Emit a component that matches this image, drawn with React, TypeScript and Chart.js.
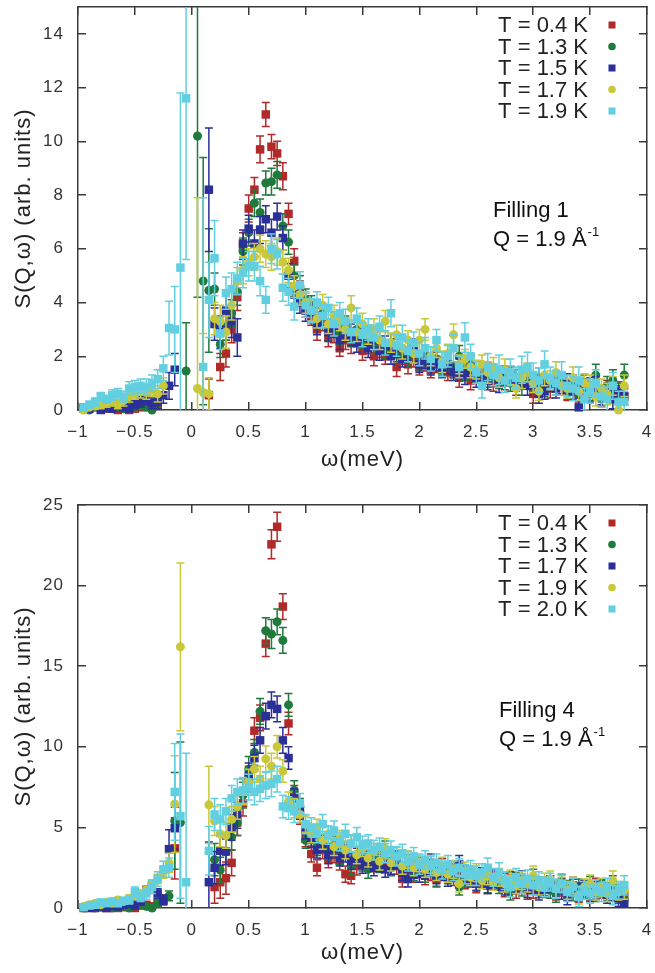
import React, { useEffect, useRef } from 'react';
import { Chart, registerables } from 'chart.js';
Chart.register(...registerables);

const FONT = '"Liberation Sans", Arial, sans-serif';

// ω grid (meV)
const omega = [
  -0.95, -0.9, -0.85, -0.8, -0.75, -0.7, -0.65, -0.6, -0.55, -0.5,
  -0.45, -0.4, -0.35, -0.3, -0.25, -0.2, -0.15, -0.1, -0.05, 0,
  0.05, 0.1, 0.15, 0.2, 0.25, 0.3, 0.35, 0.4, 0.45, 0.5,
  0.55, 0.6, 0.65, 0.7, 0.75, 0.8, 0.85, 0.9, 0.95, 1.0,
  1.05, 1.1, 1.15, 1.2, 1.25, 1.3, 1.35, 1.4, 1.45, 1.5,
  1.55, 1.6, 1.65, 1.7, 1.75, 1.8, 1.85, 1.9, 1.95, 2.0,
  2.05, 2.1, 2.15, 2.2, 2.25, 2.3, 2.35, 2.4, 2.45, 2.5,
  2.55, 2.6, 2.65, 2.7, 2.75, 2.8, 2.85, 2.9, 2.95, 3.0,
  3.05, 3.1, 3.15, 3.2, 3.25, 3.3, 3.35, 3.4, 3.45, 3.5,
  3.55, 3.6, 3.65, 3.7, 3.75, 3.8,
];

const xTicks = [-1, -0.5, 0, 0.5, 1, 1.5, 2, 2.5, 3, 3.5, 4];
const yTicksTop = [0, 2, 4, 6, 8, 10, 12, 14];
const yTicksBottom = [0, 5, 10, 15, 20, 25];

const COLORS = ['#b02a2a', '#1f7a3c', '#2b2f98', '#c8c83a', '#62cfe0'];
const STYLES = ['rect', 'circle', 'rect', 'circle', 'rect'];

const labelsTop = ['T = 0.4 K', 'T = 1.3 K', 'T = 1.5 K', 'T = 1.7 K', 'T = 1.9 K'];
const labelsBottom = ['T = 0.4 K', 'T = 1.3 K', 'T = 1.7 K', 'T = 1.9 K', 'T = 2.0 K'];

// ---------- Filling 1 ----------
const f1_T04 = [
  0.05, 0.1, 0.15, 0.1, 0.05, 0.1, 0.0, 0.05, 0.0, 0.05,
  0.1, 0.15, 0.2, 0.15, null, null, null, null, null, null,
  null, null, 0.55, null, 1.6, 2.1, 3.0, 4.2, 6.1, 7.5,
  8.2, 9.7, 11.0, 9.8, 9.55, 8.7, 7.3, 5.55, 4.4, 3.8,
  3.5, 3.0, 3.3, 2.7, 2.9, 2.3, 2.6, 2.5, 2.7, 2.2,
  2.4, 2.0, 2.3, 2.0, 2.2, 1.6, 2.0, 1.7, 1.9, 1.6,
  1.8, 1.5, 1.7, 1.6, 1.4, 1.5, 1.2, 1.4, 1.1, 1.3,
  1.2, 1.4, 1.0, 1.2, 1.1, 1.3, 0.9, 1.1, 1.2, 0.6,
  0.9, 1.0, 0.8, 1.1, 0.9, 0.7, 1.0, 0.6, 0.8, 0.9,
  0.7, 0.5, 0.8, 0.6, 0.7, 0.5,
];
const f1_T04_err = [
  0.1, 0.1, 0.12, 0.1, 0.1, 0.12, 0.1, 0.1, 0.1, 0.12,
  0.15, 0.15, 0.15, 0.2, 0, 0, 0, 0, 0, 0,
  0, 0, 0.6, 0, 0.5, 0.5, 0.5, 0.5, 0.5, 0.5,
  0.45, 0.5, 0.45, 0.45, 0.45, 0.5, 0.4, 0.45, 0.4, 0.35,
  0.35, 0.4, 0.35, 0.35, 0.4, 0.3, 0.35, 0.4, 0.35, 0.35,
  0.3, 0.35, 0.35, 0.3, 0.3, 0.35, 0.3, 0.35, 0.3, 0.3,
  0.35, 0.3, 0.3, 0.35, 0.3, 0.3, 0.35, 0.3, 0.35, 0.3,
  0.3, 0.35, 0.3, 0.3, 0.35, 0.3, 0.35, 0.3, 0.3, 0.35,
  0.3, 0.3, 0.35, 0.3, 0.3, 0.35, 0.3, 0.3, 0.35, 0.3,
  0.3, 0.35, 0.3, 0.3, 0.35, 0.3,
];
const f1_T13 = [
  0.05, 0.0, 0.1, 0.05, 0.15, 0.05, 0.1, 0.05, 0.2, 0.1,
  0.15, 0.1, 0.0, 0.3, null, null, null, null, 1.45, null,
  10.2, 4.8, 4.45, 4.5, 2.45, 3.1, 3.6, 4.4, 5.9, 6.6,
  7.7, 7.35, 8.45, 8.5, 8.75, 6.85, 6.25, 5.0, 4.6, 4.1,
  3.9, 3.4, 3.6, 3.0, 3.3, 2.8, 3.1, 2.7, 3.0, 2.6,
  2.8, 2.4, 2.6, 2.2, 2.5, 2.1, 2.3, 1.9, 2.1, 1.8,
  2.0, 1.7, 1.9, 1.6, 1.8, 1.5, 2.0, 1.4, 1.7, 1.3,
  1.5, 1.2, 1.4, 1.1, 1.3, 1.0, 1.2, 0.9, 1.1, 1.0,
  1.2, 0.8, 1.0, 0.9, 1.1, 0.7, 0.9, 0.8, 1.0, 0.7,
  1.3, 0.6, 0.9, 1.1, 0.7, 1.3,
];
const f1_T13_err = [
  0.1, 0.1, 0.12, 0.1, 0.12, 0.1, 0.12, 0.1, 0.15, 0.12,
  0.15, 0.15, 0.15, 0.2, 0, 0, 0, 0, 1.8, 0,
  6.0, 4.6, 2.3, 0.6, 0.5, 0.5, 0.5, 0.5, 0.5, 0.5,
  0.5, 0.5, 0.45, 0.5, 0.5, 0.45, 0.45, 0.4, 0.4, 0.4,
  0.35, 0.4, 0.35, 0.4, 0.35, 0.35, 0.4, 0.35, 0.35, 0.3,
  0.35, 0.3, 0.35, 0.3, 0.35, 0.3, 0.35, 0.3, 0.3, 0.35,
  0.3, 0.35, 0.3, 0.3, 0.35, 0.3, 0.4, 0.3, 0.35, 0.3,
  0.3, 0.35, 0.3, 0.3, 0.35, 0.3, 0.3, 0.35, 0.3, 0.3,
  0.35, 0.3, 0.3, 0.35, 0.3, 0.3, 0.35, 0.3, 0.3, 0.35,
  0.4, 0.3, 0.35, 0.4, 0.3, 0.4,
];
const f1_T15 = [
  0.1, 0.05, 0.15, 0.0, 0.1, 0.05, 0.15, 0.1, 0.05, 0.2,
  0.3, 0.4, 0.25, 0.3, 0.55, 0.9, 1.5, null, null, null,
  null, null, 8.2, 3.2, 2.9, 3.7, 3.3, 2.7, 6.2, 6.75,
  6.2, 6.7, 7.1, 6.6, 7.2, 6.4, 5.0, 4.3, 4.0, 3.7,
  3.6, 3.2, 3.5, 2.9, 3.1, 2.6, 2.9, 2.8, 2.5, 2.7,
  2.3, 2.6, 2.2, 2.4, 2.0, 2.3, 1.9, 2.2, 2.3, 1.7,
  1.9, 1.6, 1.8, 1.5, 1.7, 1.4, 1.6, 1.3, 1.5, 1.2,
  1.4, 1.1, 1.3, 1.0, 1.2, 1.3, 1.0, 1.2, 0.9, 1.1,
  0.6, 0.7, 1.0, 0.8, 0.9, 1.0, 0.7, 0.1, 0.8, 0.6,
  0.9, 0.5, 0.7, 0.4, 0.6, 0.5,
];
const f1_T15_err = [
  0.1, 0.1, 0.12, 0.1, 0.12, 0.1, 0.12, 0.12, 0.15, 0.15,
  0.2, 0.2, 0.2, 0.25, 0.3, 0.5, 0.6, 0, 0, 0,
  0, 0, 2.3, 0.6, 0.6, 0.6, 0.6, 0.7, 0.5, 0.5,
  0.5, 0.5, 0.5, 0.5, 0.5, 0.45, 0.45, 0.4, 0.4, 0.4,
  0.35, 0.4, 0.35, 0.35, 0.4, 0.35, 0.35, 0.4, 0.35, 0.35,
  0.35, 0.3, 0.35, 0.35, 0.3, 0.35, 0.3, 0.35, 0.35, 0.3,
  0.35, 0.3, 0.35, 0.3, 0.35, 0.3, 0.3, 0.35, 0.3, 0.35,
  0.3, 0.35, 0.3, 0.35, 0.3, 0.35, 0.3, 0.3, 0.35, 0.3,
  0.35, 0.3, 0.3, 0.35, 0.3, 0.35, 0.3, 0.35, 0.3, 0.3,
  0.35, 0.3, 0.3, 0.35, 0.3, 0.3,
];
const f1_T17 = [
  0.0, 0.1, 0.15, 0.2, 0.25, 0.3, 0.2, 0.35, 0.5, 0.6,
  0.7, 0.65, 0.75, 0.6, 0.9, null, null, null, null, null,
  0.8, 0.65, 0.6, 3.4, 3.3, 2.9, 3.9, 4.8, 5.2, 5.5,
  5.7, 6.0, 5.8, 5.7, 5.9, 5.5, 5.2, 4.6, 4.3, 4.0,
  3.7, 3.4, 3.9, 3.2, 3.5, 3.3, 3.0, 3.8, 2.9, 3.2,
  2.8, 3.0, 2.6, 3.3, 2.5, 2.8, 2.3, 2.6, 2.1, 2.6,
  3.0, 2.0, 2.3, 1.8, 2.1, 2.8, 1.7, 1.9, 1.6, 1.5,
  1.7, 1.4, 1.6, 1.2, 1.5, 1.3, 0.8, 1.2, 1.4, 1.0,
  0.7, 1.3, 1.1, 1.4, 0.9, 0.8, 1.2, 0.7, 1.0, 0.9,
  0.5, 0.8, 0.6, 0.9, 0.0, 0.9,
];
const f1_T17_err = [
  0.1, 0.12, 0.12, 0.15, 0.15, 0.15, 0.15, 0.2, 0.2, 0.2,
  0.25, 0.25, 0.25, 0.3, 0.3, 0, 0, 0, 0, 0,
  7.1, 2.2, 0.6, 0.6, 0.6, 0.6, 0.55, 0.5, 0.5, 0.5,
  0.5, 0.5, 0.5, 0.5, 0.5, 0.45, 0.45, 0.4, 0.4, 0.4,
  0.4, 0.35, 0.4, 0.35, 0.4, 0.35, 0.4, 0.45, 0.35, 0.4,
  0.35, 0.4, 0.35, 0.4, 0.35, 0.35, 0.4, 0.35, 0.35, 0.4,
  0.4, 0.35, 0.35, 0.4, 0.35, 0.4, 0.35, 0.35, 0.4, 0.35,
  0.35, 0.4, 0.35, 0.35, 0.4, 0.35, 0.35, 0.4, 0.35, 0.35,
  0.35, 0.4, 0.35, 0.4, 0.35, 0.35, 0.4, 0.35, 0.35, 0.4,
  0.35, 0.35, 0.4, 0.35, 0.35, 0.4,
];
const f1_T19 = [
  0.1, 0.2, 0.3, 0.5, 0.4, 0.55, 0.6, 0.5, 0.8, 0.85,
  0.9, 0.85, 1.0, 1.15, 1.55, 3.05, 3.0, 5.3, 11.6, null,
  null, 1.6, 4.1, 5.65, 2.85, 4.35, 4.5, 4.9, 5.1, 5.35,
  5.35, 4.8, 4.1, 6.0, 5.8, 4.55, 4.4, 3.85, 4.65, 3.9,
  3.7, 4.0, 3.5, 3.8, 3.2, 3.6, 3.3, 2.9, 3.4, 2.8,
  3.0, 2.7, 3.1, 2.5, 3.6, 2.4, 2.7, 2.2, 2.5, 2.1,
  2.3, 1.9, 2.6, 1.7, 2.0, 2.3, 1.6, 2.7, 2.0, 1.4,
  0.9, 1.6, 1.3, 1.5, 1.1, 1.4, 1.2, 1.5, 1.6, 1.3,
  1.1, 1.7, 1.2, 1.0, 1.3, 0.9, 0.8, 1.1, 0.4, 0.7,
  1.0, 0.5, 0.4, 0.9, 0.3, 0.3,
];
const f1_T19_err = [
  0.1, 0.12, 0.15, 0.15, 0.15, 0.2, 0.2, 0.2, 0.25, 0.25,
  0.25, 0.3, 0.3, 0.35, 0.45, 1.0, 1.6, 6.5, 6.0, 0,
  0, 6.3, 1.4, 1.4, 0.6, 0.6, 0.6, 0.6, 0.55, 0.55,
  0.55, 0.55, 0.5, 0.55, 0.55, 0.5, 0.5, 0.5, 0.5, 0.45,
  0.45, 0.4, 0.45, 0.4, 0.45, 0.4, 0.45, 0.4, 0.4, 0.45,
  0.4, 0.45, 0.4, 0.45, 0.5, 0.4, 0.45, 0.4, 0.4, 0.45,
  0.4, 0.45, 0.4, 0.45, 0.4, 0.5, 0.4, 0.55, 0.45, 0.4,
  0.45, 0.5, 0.4, 0.55, 0.45, 0.5, 0.4, 0.5, 0.55, 0.45,
  0.45, 0.5, 0.4, 0.45, 0.5, 0.4, 0.45, 0.5, 0.4, 0.45,
  0.5, 0.4, 0.45, 0.5, 0.4, 0.4,
];

// ---------- Filling 4 ----------
const f4_T04 = [
  0.0, 0.05, 0.0, 0.1, 0.0, 0.05, 0.0, 0.05, 0.1, 0.0,
  0.15, 0.2, 0.1, 0.3, 0.5, null, 3.7, null, null, null,
  null, null, null, 1.3, 1.6, 1.85, 2.8, 5.3, 6.5, 8.0,
  11.0, 11.8, 16.4, 22.56, 23.65, 18.7, 11.45, 7.0, 5.8, 4.3,
  3.35, 2.5, 3.6, 3.0, 3.3, 2.9, 2.1, 2.0, 2.6, 2.9,
  3.1, 2.8, 3.0, 2.7, 2.9, 2.6, 1.8, 2.4, 2.1, 2.4,
  2.0, 2.2, 1.8, 2.5, 2.3, 1.9, 2.0, 1.7, 1.9, 1.5,
  1.8, 1.4, 1.7, 1.6, 1.2, 1.5, 1.1, 1.6, 1.1, 1.1,
  1.4, 1.2, 1.5, 1.0, 1.3, 1.1, 1.4, 0.9, 1.2, 1.0,
  1.3, 1.1, 0.9, 1.2, 1.0, 0.8,
];
const f4_T04_err = [
  0.1, 0.1, 0.1, 0.1, 0.1, 0.12, 0.1, 0.12, 0.12, 0.12,
  0.15, 0.15, 0.2, 0.25, 0.3, 0, 1.9, 0, 0, 0,
  0, 0, 0, 1.0, 1.0, 1.0, 0.8, 0.8, 0.8, 0.8,
  0.8, 0.8, 0.8, 0.9, 0.9, 0.8, 0.7, 0.6, 0.6, 0.5,
  0.5, 0.5, 0.55, 0.5, 0.5, 0.55, 0.5, 0.5, 0.55, 0.5,
  0.5, 0.55, 0.5, 0.5, 0.55, 0.5, 0.5, 0.55, 0.5, 0.5,
  0.55, 0.5, 0.5, 0.55, 0.5, 0.5, 0.55, 0.5, 0.5, 0.55,
  0.5, 0.5, 0.55, 0.5, 0.5, 0.55, 0.5, 0.5, 0.55, 0.5,
  0.5, 0.55, 0.5, 0.5, 0.55, 0.5, 0.5, 0.55, 0.5, 0.5,
  0.55, 0.5, 0.5, 0.55, 0.5, 0.5,
];
const f4_T13 = [
  0.0, 0.05, 0.0, 0.05, 0.1, 0.0, 0.05, 0.1, 0.0, 0.15,
  0.2, 0.1, 0.0, 0.3, 0.5, 0.75, 5.4, 5.3, null, null,
  null, null, null, 3.0, 2.35, 3.5, 4.4, 5.3, 7.0, 8.6,
  9.65, 12.2, 17.2, 17.0, 17.75, 16.6, 12.6, 7.3, 6.3, 4.2,
  4.5, 3.8, 4.1, 3.5, 3.9, 3.2, 3.6, 2.6, 3.3, 2.8,
  2.4, 3.1, 2.7, 3.6, 2.5, 3.0, 2.3, 2.8, 2.2, 2.6,
  2.1, 2.5, 1.9, 2.3, 2.0, 2.2, 1.3, 1.8, 2.0, 1.6,
  1.9, 1.5, 1.8, 1.4, 1.6, 1.0, 1.7, 1.3, 1.5, 1.9,
  1.2, 1.4, 1.1, 0.9, 1.6, 1.2, 1.0, 1.3, 1.1, 1.4,
  0.9, 1.2, 1.0, 1.5, 0.8, 0.5,
];
const f4_T13_err = [
  0.1, 0.1, 0.1, 0.1, 0.12, 0.1, 0.12, 0.12, 0.12, 0.15,
  0.15, 0.15, 0.15, 0.2, 0.25, 0.3, 3.0, 5.0, 0, 0,
  0, 0, 0, 1.0, 0.8, 0.8, 0.8, 0.8, 0.8, 0.8,
  0.8, 0.8, 0.8, 0.9, 0.8, 0.8, 0.7, 0.6, 0.5, 0.5,
  0.5, 0.55, 0.5, 0.5, 0.55, 0.5, 0.5, 0.55, 0.5, 0.5,
  0.55, 0.5, 0.5, 0.55, 0.5, 0.5, 0.55, 0.5, 0.5, 0.55,
  0.5, 0.5, 0.55, 0.5, 0.5, 0.55, 0.5, 0.5, 0.55, 0.5,
  0.5, 0.55, 0.5, 0.5, 0.55, 0.5, 0.5, 0.55, 0.5, 0.5,
  0.55, 0.5, 0.5, 0.55, 0.5, 0.5, 0.55, 0.5, 0.5, 0.55,
  0.5, 0.5, 0.55, 0.5, 0.5, 0.55,
];
const f4_T17 = [
  0.05, 0.0, 0.05, 0.1, 0.0, 0.15, 0.1, 0.2, 0.25, 0.15,
  0.4, 1.1, 1.4, 0.9, 0.5, 3.65, 4.95, null, null, null,
  null, null, 1.6, 2.5, 3.55, 3.5, 5.0, 5.75, 7.2, 8.2,
  9.3, 10.4, 11.9, 12.6, 12.35, 10.4, 9.3, 6.8, 6.0, 4.8,
  4.3, 3.6, 4.0, 3.3, 3.7, 3.1, 3.4, 2.9, 3.2, 2.7,
  3.0, 2.5, 2.8, 2.4, 2.6, 3.0, 2.2, 1.8, 2.4, 2.1,
  2.3, 2.8, 2.0, 2.2, 1.9, 2.4, 2.7, 2.1, 1.8, 1.6,
  2.0, 1.4, 1.8, 1.6, 1.3, 1.7, 1.5, 1.8, 1.2, 1.4,
  1.0, 1.3, 1.5, 1.2, 1.1, 0.7, 1.3, 1.0, 1.2, 0.9,
  1.1, 1.3, 0.8, 1.0, 0.6, 0.3,
];
const f4_T17_err = [
  0.1, 0.1, 0.1, 0.12, 0.1, 0.12, 0.12, 0.15, 0.15, 0.15,
  0.2, 0.25, 0.3, 0.3, 0.3, 1.2, 1.3, 0, 0, 0,
  0, 0, 2.5, 1.0, 0.9, 0.8, 0.8, 0.8, 0.8, 0.8,
  0.8, 0.8, 0.8, 0.8, 0.8, 0.8, 0.7, 0.6, 0.5, 0.5,
  0.55, 0.5, 0.5, 0.55, 0.5, 0.5, 0.55, 0.5, 0.5, 0.55,
  0.5, 0.5, 0.55, 0.5, 0.5, 0.55, 0.5, 0.5, 0.55, 0.5,
  0.5, 0.55, 0.5, 0.5, 0.55, 0.5, 0.55, 0.5, 0.5, 0.55,
  0.5, 0.5, 0.55, 0.5, 0.5, 0.55, 0.5, 0.5, 0.55, 0.5,
  0.5, 0.55, 0.5, 0.5, 0.55, 0.5, 0.5, 0.55, 0.5, 0.5,
  0.55, 0.5, 0.5, 0.55, 0.5, 0.5,
];
const f4_T19 = [
  0.1, 0.2, 0.3, 0.2, 0.35, 0.3, 0.5, 0.4, 0.6, 0.75,
  0.9, 1.1, 1.5, 1.8, 2.2, 2.8, 6.45, 16.2, null, null,
  null, null, 6.4, 5.4, 4.6, 4.5, 5.5, 6.3, 7.2, 7.8,
  8.6, 8.0, 9.25, 8.8, 10.0, 8.5, 6.6, 6.2, 5.8, 5.2,
  4.6, 5.0, 4.2, 4.6, 3.8, 4.3, 3.6, 4.0, 3.3, 3.7,
  3.1, 3.5, 2.9, 3.7, 2.8, 3.2, 2.6, 3.0, 2.5, 2.8,
  2.4, 2.7, 2.2, 2.6, 2.1, 2.4, 1.5, 2.3, 1.9, 2.2,
  1.7, 2.0, 1.6, 1.9, 1.5, 1.8, 1.4, 1.7, 1.5, 2.0,
  1.3, 1.6, 1.8, 1.2, 1.5, 1.1, 1.4, 0.8, 1.3, 1.5,
  1.0, 1.3, 0.9, 1.7, 1.0, 1.1,
];
const f4_T19_err = [
  0.12, 0.12, 0.15, 0.12, 0.15, 0.15, 0.15, 0.15, 0.2, 0.2,
  0.15, 0.2, 0.25, 0.3, 0.35, 0.6, 3.0, 5.2, 0, 0,
  0, 0, 2.4, 0.9, 0.8, 0.8, 0.8, 0.8, 0.8, 0.8,
  0.8, 0.8, 0.8, 0.8, 0.7, 0.7, 0.6, 0.6, 0.5, 0.5,
  0.55, 0.5, 0.55, 0.5, 0.55, 0.5, 0.55, 0.5, 0.55, 0.5,
  0.55, 0.5, 0.55, 0.6, 0.5, 0.55, 0.5, 0.55, 0.5, 0.55,
  0.5, 0.55, 0.5, 0.55, 0.5, 0.55, 0.5, 0.55, 0.5, 0.55,
  0.5, 0.55, 0.5, 0.55, 0.5, 0.55, 0.5, 0.55, 0.5, 0.6,
  0.5, 0.55, 0.5, 0.55, 0.5, 0.55, 0.5, 0.55, 0.5, 0.55,
  0.5, 0.55, 0.5, 0.6, 0.5, 0.55,
];
const f4_T20 = [
  0.05, 0.15, 0.2, 0.35, 0.3, 0.4, 0.3, 0.45, 0.5, 1.0,
  0.7, 0.9, 1.3, 1.8, 2.4, 2.5, 7.2, 5.7, 1.6, null,
  null, null, 3.55, 5.8, 5.5, 6.0, 6.8, 7.2, 7.3, 7.5,
  7.2, 7.4, 7.6, 7.7, 8.0, 6.3, 6.2, 6.0, 6.5, 5.2,
  5.0, 4.6, 5.2, 4.5, 4.8, 4.1, 4.6, 4.0, 4.4, 3.9,
  4.0, 3.6, 3.8, 3.4, 3.6, 3.2, 3.4, 2.9, 3.2, 2.7,
  3.0, 2.6, 2.8, 2.4, 2.7, 2.3, 2.5, 2.1, 2.4, 2.0,
  2.2, 2.5, 1.9, 2.2, 1.7, 1.3, 1.9, 1.5, 1.8, 1.4,
  1.7, 1.3, 1.6, 1.2, 1.5, 1.0, 1.3, 0.7, 1.1, 0.9,
  1.2, 1.0, 1.3, 0.8, 1.1, 1.4,
];
const f4_T20_err = [
  0.1, 0.12, 0.15, 0.15, 0.15, 0.2, 0.2, 0.2, 0.25, 0.3,
  0.3, 0.35, 0.4, 0.45, 0.5, 0.6, 3.0, 5.1, 8.0, 0,
  0, 0, 1.5, 1.0, 0.9, 0.8, 0.8, 0.8, 0.8, 0.8,
  0.8, 0.8, 0.8, 0.8, 0.8, 0.7, 0.7, 0.7, 0.6, 0.6,
  0.6, 0.55, 0.6, 0.55, 0.6, 0.55, 0.6, 0.55, 0.6, 0.55,
  0.55, 0.6, 0.55, 0.6, 0.55, 0.6, 0.55, 0.6, 0.55, 0.6,
  0.55, 0.6, 0.55, 0.6, 0.55, 0.6, 0.55, 0.6, 0.55, 0.6,
  0.55, 0.6, 0.55, 0.6, 0.55, 0.6, 0.55, 0.6, 0.55, 0.6,
  0.55, 0.6, 0.55, 0.6, 0.55, 0.6, 0.55, 0.6, 0.55, 0.6,
  0.55, 0.6, 0.55, 0.6, 0.55, 0.6,
];

const topY = [f1_T04, f1_T13, f1_T15, f1_T17, f1_T19];
const topE = [f1_T04_err, f1_T13_err, f1_T15_err, f1_T17_err, f1_T19_err];
const botY = [f4_T04, f4_T13, f4_T17, f4_T19, f4_T20];
const botE = [f4_T04_err, f4_T13_err, f4_T17_err, f4_T19_err, f4_T20_err];

const fmt = (v: any) => {
  const n = Number(v);
  const s = String(Math.abs(n));
  return n < 0 ? '\u2212' + s : s;
};

const AXIS = '#3a3a3a';

const errorBars = {
  id: 'errorBars',
  beforeDatasetDraw(chart: any, args: any) {
    const ds = chart.data.datasets[args.index];
    const { ctx, chartArea, scales } = chart;
    ctx.save();
    ctx.beginPath();
    ctx.rect(chartArea.left, chartArea.top, chartArea.right - chartArea.left, chartArea.bottom - chartArea.top);
    ctx.clip();
    ctx.strokeStyle = ds.borderColor;
    ctx.lineWidth = 1.5;
    ds.data.forEach((p: any) => {
      if (!p.e) return;
      const x = scales.x.getPixelForValue(p.x);
      const y1 = scales.y.getPixelForValue(p.y - p.e);
      const y2 = scales.y.getPixelForValue(p.y + p.e);
      ctx.beginPath();
      ctx.moveTo(x, y1); ctx.lineTo(x, y2);
      ctx.moveTo(x - 4, y1); ctx.lineTo(x + 4, y1);
      ctx.moveTo(x - 4, y2); ctx.lineTo(x + 4, y2);
      ctx.stroke();
    });
    ctx.restore();
  },
};

function overlay(labels: string[], note: string, noteDx: number, noteDy: number) {
  return {
    id: 'overlay',
    beforeDraw(chart: any) {
      chart.ctx.letterSpacing = '1px';
    },
    afterDraw(chart: any) {
      const { ctx, chartArea } = chart;
      ctx.save();
      ctx.letterSpacing = '0px';
      ctx.font = `22px ${FONT}`;
      ctx.textAlign = 'right';
      ctx.textBaseline = 'middle';
      labels.forEach((lab, i) => {
        const y = chartArea.top + 18 + i * 21.5;
        ctx.fillStyle = '#222';
        ctx.fillText(lab, chartArea.right - 59, y + 1);
        ctx.fillStyle = COLORS[i];
        const mx = chartArea.right - 35;
        if (STYLES[i] === 'rect') {
          ctx.fillRect(mx - 3.5, y - 3.5, 7, 7);
        } else {
          ctx.beginPath();
          ctx.arc(mx, y, 3.8, 0, Math.PI * 2);
          ctx.fill();
        }
      });
      ctx.textAlign = 'left';
      ctx.textBaseline = 'alphabetic';
      ctx.fillStyle = '#111';
      const nx = chartArea.left + noteDx;
      const ny = chartArea.top + noteDy;
      ctx.fillText(note, nx, ny);
      const q = 'Q = 1.9 \u00C5';
      ctx.fillText(q, nx, ny + 29);
      const w = ctx.measureText(q).width;
      ctx.font = `13px ${FONT}`;
      ctx.fillText('-1', nx + w + 1, ny + 29 - 10);
      ctx.restore();
    },
  };
}

function buildConfig(ys: any[], es: number[][], labels: string[], yMax: number, yTicks: number[], topPad: number, xAxisH: number, titlePadB: number, note: string, noteDx: number, noteDy: number) {
  const grid = { display: true, drawOnChartArea: false, drawTicks: true, tickLength: -8, color: AXIS, lineWidth: 1.5 };
  const border = { display: true, color: AXIS, width: 1.5 };
  const tickFont = { size: 17, family: FONT };
  const setX = (s: any) => { s.ticks = xTicks.map((v) => ({ value: v })); };
  const setY = (s: any) => { s.ticks = yTicks.map((v) => ({ value: v })); };
  const n = ys.length;
  return {
    type: 'scatter',
    data: {
      datasets: ys.map((arr: any[], k: number) => ({
        label: labels[k],
        data: omega
          .map((x, i) => ({ x, y: arr[i], e: es[k][i] }))
          .filter((p) => p.y !== null && p.y !== undefined),
        backgroundColor: COLORS[k],
        borderColor: COLORS[k],
        pointStyle: STYLES[k],
        pointRadius: STYLES[k] === 'rect' ? 6 : 4.5,
        pointHoverRadius: STYLES[k] === 'rect' ? 6 : 4.5,
        pointBorderWidth: 0,
        order: n - k,
        clip: false,
      })),
    },
    options: {
      animation: false,
      responsive: false,
      devicePixelRatio: 1,
      events: [],
      layout: { padding: { left: 0, right: 8, top: topPad, bottom: 0 } },
      plugins: { legend: { display: false }, tooltip: { enabled: false } },
      scales: {
        x: {
          type: 'linear', position: 'bottom', min: -1, max: 4,
          afterBuildTicks: setX,
          afterFit: (s: any) => { s.height = xAxisH; s.paddingLeft = 0; s.paddingRight = 0; },
          ticks: { callback: fmt, font: tickFont, color: '#333', padding: 20, autoSkip: false, maxRotation: 0, minRotation: 0 },
          grid, border,
          title: { display: true, text: '\u03C9(meV)', font: { size: 22, family: FONT }, color: '#222', padding: { top: 0, bottom: titlePadB } },
        },
        x2: {
          type: 'linear', position: 'top', min: -1, max: 4,
          afterBuildTicks: setX,
          afterFit: (s: any) => { s.height = 0; s.paddingLeft = 0; s.paddingRight = 0; },
          ticks: { display: false },
          grid, border,
        },
        y: {
          type: 'linear', position: 'left', min: 0, max: yMax,
          afterBuildTicks: setY,
          afterFit: (s: any) => { s.width = 78; s.paddingTop = 0; s.paddingBottom = 0; },
          ticks: { callback: fmt, font: tickFont, color: '#333', padding: 22, autoSkip: false },
          grid, border,
          title: { display: true, text: 'S(Q,\u03C9) (arb. units)', font: { size: 22, family: FONT }, color: '#222', padding: { top: 11, bottom: 0 } },
        },
        y2: {
          type: 'linear', position: 'right', min: 0, max: yMax,
          afterBuildTicks: setY,
          afterFit: (s: any) => { s.width = 0; s.paddingTop = 0; s.paddingBottom = 0; },
          ticks: { display: false },
          grid, border,
        },
      },
    },
    plugins: [errorBars, overlay(labels, note, noteDx, noteDy)],
  };
}

export default function App() {
  const topRef = useRef<HTMLCanvasElement>(null);
  const botRef = useRef<HTMLCanvasElement>(null);
  useEffect(() => {
    const c1 = new Chart(topRef.current as any, buildConfig(topY, topE, labelsTop, 15, yTicksTop, 7, 68, 4.8, 'Filling 1', 415, 210) as any);
    const c2 = new Chart(botRef.current as any, buildConfig(botY, botE, labelsBottom, 25, yTicksBottom, 27, 65, 6.8, 'Filling 4', 421, 212) as any);
    return () => { c1.destroy(); c2.destroy(); };
  }, []);
  return (
    <div style={{ position: 'absolute', left: 0, top: 0, width: 655, height: 973, background: '#fff' }}>
      <canvas ref={topRef} width={655} height={478} style={{ position: 'absolute', left: 0, top: 0, width: 655, height: 478 }} />
      <canvas ref={botRef} width={655} height={495} style={{ position: 'absolute', left: 0, top: 478, width: 655, height: 495 }} />
    </div>
  );
}
